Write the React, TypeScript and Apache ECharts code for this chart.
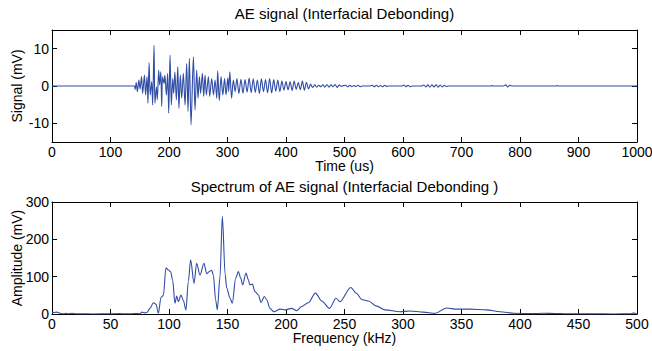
import React, { useEffect, useRef } from "react";
import * as echarts from "echarts";

// ---- Data ----
const titleTop = "AE signal (Interfacial Debonding)";
const titleBottom = "Spectrum of AE signal (Interfacial Debonding )";

const timeTicks = [0, 100, 200, 300, 400, 500, 600, 700, 800, 900, 1000];
const signalTicks = [-10, 0, 10];
const freqTicks = [0, 50, 100, 150, 200, 250, 300, 350, 400, 450, 500];
const ampTicks = [0, 100, 200, 300];

// AE signal: [time (us), signal (mV)] – extrema of the burst
const signalPoints: [number, number][] = [
  [0, 0], [141, 0],
  [142, -0.9], [144, 0.9], [146, -1.5], [148.5, 1.6], [150.5, -0.8], [153, 2.5], [155, -2], [158, 2.9],
  [160, -2.4], [162.5, 2.5], [164, -4.6], [166, 6.2], [168, -2.4], [170.5, 1.2], [172, -5.1], [174.4, 10.9],
  [176, -4.6], [178.5, -0.2], [180, -3.7], [182.4, 4.3], [184, 0.3], [186, 3.8], [187.5, -5.5], [189, 2.5],
  [191.5, 0.7], [193, 2.9], [195.5, -2.4], [197.7, 3.4], [199.5, -7.3], [201.8, 8.3], [204, -5.1], [206.3, 2],
  [208, -2], [210, 3.8], [212.6, -3.7], [215, 5.2], [217, -6], [219.4, 2.9], [221.7, -3.3], [224.5, 3.4],
  [227.4, -5.1], [230.2, 6.0], [232.5, -6.8], [234.8, 7.4], [237.7, -10.4], [241.7, 7.8], [244.5, -6.4],
  [247.4, 4.3], [249.6, -3.3], [252, 2.5], [254, -2], [257, 3.4], [259.3, -2.8], [261.6, 2.9], [263.9, -2.4],
  [267.3, 2.5], [269.6, -2.8], [273, 2.0], [276, -2.4], [278.7, 1.6], [281.6, -3.3],
  [283.2, 4.1], [286, -3.9], [289, 2.5], [292, -2.4], [295, 2], [297.5, -2.4], [300.5, 2.2], [302, -1.5],
  [304, 3.8], [307, -3.3], [310, 1.6], [313, -1.5], [316, 2], [319.5, -2], [323, 1.8], [326.5, -1.9],
  [330, 1.7], [333.5, -1.6], [337, 2.1], [340.5, -1.8], [344, 1.9], [347.5, -1.7], [351, 1.6], [354.5, -2],
  [358, 1.9], [361.5, -1.5], [365, 1.7], [368.5, -1.8], [372, 2], [375.5, -1.9], [379, 1.7], [382.5, -1.4],
  [386, 1.6], [389.5, -1.5], [393, 1.3], [396.5, -1.1], [400, 1.2], [403.5, -1], [407, 1.1], [410.5, -1.2],
  [414, 1.3], [417.5, -0.9], [421, 0.9], [424.5, -1], [428, 1.3], [431.5, -1.1], [435, 1], [438.5, -0.8],
  [442, 0.5], [445.5, -0.4], [449, 0.3], [452.5, -0.3], [456, 0.2], [459.5, -0.2], [463, 0.3], [466.5, -0.3],
  [470, 0.4], [473.5, -0.3], [477, 0.3], [480.5, -0.2], [484, 0.4], [487.5, -0.4], [491, 0.3], [494.5, -0.1],
  [498, 0.1],
  [502, 0.2], [505.5, -0.2], [509, 0.2], [512.5, -0.2], [516, 0.15], [519.5, -0.15], [523, 0.2], [526.5, -0.2], [530, 0],
  [544, 0], [547.5, 0.2], [551, -0.2], [554.5, 0.2], [558, -0.2], [561.5, 0.15], [565, -0.2], [568.5, 0.2], [572, -0.1], [576, 0],
  [598, 0], [601.5, 0.25], [605, -0.2], [608.5, 0.2], [612, -0.2], [615.5, 0],
  [632, 0], [635.5, 0.25], [639, -0.25], [642.5, 0.3], [646, -0.3], [649.5, 0.3], [653, -0.25], [656.5, 0.3],
  [660, -0.3], [663.5, 0.25], [667, -0.25], [670.5, 0.2], [674, -0.15], [677.5, 0],
  [750, 0], [752, 0.15], [754, 0],
  [772, 0], [775.5, 0.3], [779, -0.25], [782.5, 0.2], [786, 0],
  [862, 0], [864, 0.12], [866, 0],
  [1000, 0],
];

// Spectrum: [frequency (kHz), amplitude (mV)]
const spectrumPoints: [number, number][] = [
  [0, 5], [2, 4], [4, 5], [6, 3], [8, 1], [10, 0.5], [12, 2], [14, 0.5], [17, 2], [20, 0.5], [25, 0.3],
  [35, 0.2], [50, 0.3], [58, 1], [60, 0.3], [68, 0.5], [72, 1.5], [75, 0.5], [77, 5], [79, 3], [81, 4],
  [83.8, 15], [86.6, 30], [89, 26], [90.9, 2], [93.2, 45], [95.2, 50], [97.4, 124], [99.4, 118], [101.4, 113],
  [103.1, 91], [105.1, 29], [106.6, 48], [108, 33], [110.2, 51], [112.2, 37], [114.5, 11], [116.5, 87],
  [118.5, 145], [121.4, 82], [123.6, 136], [126.5, 104], [129.9, 136], [132.2, 108], [134.5, 114],
  [136.5, 117], [137.9, 104], [139.9, 37], [141.3, 11], [143.6, 100], [145.6, 262], [148, 105], [149.3, 70],
  [152.2, 42], [154.1, 29], [157, 96], [159.3, 114], [161.3, 96], [163, 78], [165.8, 110], [167.8, 92],
  [169.2, 78], [171.2, 80], [173.5, 60], [176.4, 51], [178.6, 31], [181.5, 47], [183.5, 38], [186.3, 15],
  [189.7, 6], [194.9, 13], [199.2, 11], [204.8, 15], [209.1, 9], [213.4, 20], [219, 30], [225.2, 56],
  [230.5, 35], [237.2, 15], [242.7, 42], [246.1, 33], [255.3, 71], [260.4, 55], [264.7, 39], [270.4, 35],
  [277.5, 21], [284.6, 11], [297.4, 6], [306, 8], [317.4, 5], [327.4, 2], [337.3, 16], [345.9, 13],
  [357.3, 13], [371.5, 11], [382.9, 6], [395, 2], [410, 1], [420, 2], [430, 1.5], [440, 0.5], [460, 0.3],
  [480, 0.2], [495, 0.3], [497, 3], [499, 0.5], [500, 0],
];

const FONT = "'Liberation Sans', Arial, Helvetica, sans-serif";
const LINE_COLOR = "#2f4ca6";

export default function App() {
  const ref = useRef<HTMLDivElement>(null);

  useEffect(() => {
    if (!ref.current) return;
    const chart = echarts.init(ref.current, undefined, { renderer: "svg" });

    const labelStyle = { color: "#000", fontSize: 14, fontFamily: FONT };
    const nameStyle = { color: "#000", fontSize: 14, fontFamily: FONT };
    const axisLine = { show: true, onZero: false, lineStyle: { color: "#000", width: 1 } };
    const tick = (vals: number[]) => ({
      show: true,
      inside: true,
      length: 5,
      customValues: vals,
      lineStyle: { color: "#000", width: 1 },
    });
    const fmt = (v: number) => String(v);

    const xAxisPair = (gi: number, min: number, max: number, ticks: number[], name: string) => [
      {
        gridIndex: gi,
        type: "value",
        min,
        max,
        position: "bottom",
        axisLine,
        axisTick: tick(ticks),
        axisLabel: { ...labelStyle, margin: 3, customValues: ticks, formatter: fmt },
        splitLine: { show: false },
        name,
        nameLocation: "middle",
        nameGap: 17,
        nameMoveOverlap: false,
        nameTextStyle: nameStyle,
      },
      {
        gridIndex: gi,
        type: "value",
        min,
        max,
        position: "top",
        axisLine,
        axisTick: tick(ticks),
        axisLabel: { show: false },
        splitLine: { show: false },
      },
    ];
    const yAxisPair = (gi: number, min: number, max: number, ticks: number[], name: string) => [
      {
        gridIndex: gi,
        type: "value",
        min,
        max,
        position: "left",
        axisLine,
        axisTick: tick(ticks),
        axisLabel: { ...labelStyle, margin: 3, customValues: ticks, formatter: fmt },
        splitLine: { show: false },
        name,
        nameLocation: "middle",
        nameGap: 28,
        nameMoveOverlap: false,
        nameTextStyle: nameStyle,
      },
      {
        gridIndex: gi,
        type: "value",
        min,
        max,
        position: "right",
        axisLine,
        axisTick: tick(ticks),
        axisLabel: { show: false },
        splitLine: { show: false },
      },
    ];

    chart.setOption({
      animation: false,
      backgroundColor: "#fff",
      grid: [
        { left: 52, top: 30, width: 585, height: 112, containLabel: false, outerBoundsMode: "none" },
        { left: 52, top: 202, width: 585, height: 112, containLabel: false, outerBoundsMode: "none" },
      ],
      xAxis: [
        ...xAxisPair(0, timeTicks[0], timeTicks[timeTicks.length - 1], timeTicks, "Time (us)"),
        ...xAxisPair(1, freqTicks[0], freqTicks[freqTicks.length - 1], freqTicks, "Frequency (kHz)"),
      ],
      yAxis: [
        ...yAxisPair(0, -15, 15, signalTicks, "Signal (mV)"),
        ...yAxisPair(1, ampTicks[0], ampTicks[ampTicks.length - 1], ampTicks, "Amplitude (mV)"),
      ],
      graphic: [
        {
          type: "text",
          x: 344.5,
          y: 13,
          style: { text: titleTop, align: "center", verticalAlign: "middle", fill: "#000", fontSize: 15, fontFamily: FONT },
        },
        {
          type: "text",
          x: 344.5,
          y: 186,
          style: { text: titleBottom, align: "center", verticalAlign: "middle", fill: "#000", fontSize: 15, fontFamily: FONT },
        },
      ],
      series: [
        {
          type: "line",
          xAxisIndex: 0,
          yAxisIndex: 0,
          data: signalPoints,
          showSymbol: false,
          smooth: 0.3,
          lineStyle: { color: LINE_COLOR, width: 1.1 },
        },
        {
          type: "line",
          xAxisIndex: 2,
          yAxisIndex: 2,
          data: spectrumPoints,
          showSymbol: false,
          smooth: 0.3,
          smoothMonotone: "x",
          lineStyle: { color: LINE_COLOR, width: 1.1 },
        },
      ],
    });

    return () => chart.dispose();
  }, []);

  return (
    <div
      ref={ref}
      style={{ position: "absolute", left: 0, top: 0, width: 652, height: 351, background: "#fff" }}
    />
  );
}
